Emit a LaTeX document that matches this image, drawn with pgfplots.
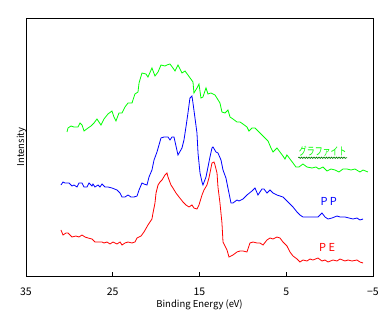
\documentclass[border=0pt]{standalone}
\usepackage{graphicx}
\usepackage{pgfplots}
\pgfplotsset{compat=1.18}
\usepackage{fontspec}
\setmainfont{Noto Sans CJK JP}
\usetikzlibrary{decorations.pathmorphing}
\begin{document}
\begin{tikzpicture}
\begin{axis}[
  scale only axis, width=347pt, height=258pt,
  at={(0,0)}, anchor=south west,
  x dir=reverse, xmin=-5, xmax=35, ymin=0, ymax=258,
  xtick={35,25,15,5,-5}, xticklabels={35,25,15,5,−5},
  xtick pos=lower, tick align=inside, major tick length=4pt,
  ytick=\empty,
  axis line style={line width=0.8pt}, every tick/.style={line width=0.8pt, black},
  xticklabel style={yshift=-8pt, font=\fontsize{10.5}{12}\selectfont},
  xlabel={Binding Energy (eV)}, ylabel={Intensity},
  xlabel style={font=\fontsize{9.5}{11}\selectfont, yshift=2pt},
  ylabel style={font=\fontsize{9.5}{11}\selectfont, yshift=-4pt},
  /pgf/number format/assume math mode=true,
  every axis plot/.append style={line width=0.8pt, sharp plot},
  clip=false,
]
\addplot[color={rgb,255:red,0;green,255;blue,0}] coordinates {
(30.27,144)(30.16,148)(29.81,150)(29.47,149)(29.01,149)(28.78,153)(28.54,151)(28.31,145)
(27.85,148)(27.51,150)(27.16,153)(26.82,157)(26.36,151)(26.01,157)(25.55,162)(25.09,165)
(24.86,159)(24.63,155)(24.28,163)(23.93,163)(23.59,169)(23.24,173)(22.78,173)(22.44,182)
(22.09,184)(21.97,193)(21.63,203)(21.17,202)(20.94,199)(20.48,208)(20.13,200)(19.78,204)
(19.44,211)(18.98,210)(18.75,211)(18.40,212)(18.06,208)(17.82,205)(17.48,211)(17.02,203)
(16.67,205)(16.33,201)(15.75,194)(15.64,183)(15.29,188)(15.06,192)(14.83,178)(14.60,179)
(14.25,188)(14.02,182)(13.68,183)(13.21,181)(12.64,173)(12.41,164)(12.06,163)(11.72,166)
(11.48,159)(11.14,157)(10.68,154)(10.33,154)(9.99,152)(9.53,149)(9.30,145)(8.95,148)
(8.60,148)(8.26,145)(7.80,141)(7.45,138)(7.10,135)(6.76,128)(6.53,124)(6.07,128)
(5.72,124)(5.38,120)(5.15,117)(4.92,121)(4.57,117)(4.22,113)(3.88,109)(3.53,109)
(3.07,112)(2.61,109)(2.03,108)(1.57,109)(1.23,107)(0.76,109)(0.30,105)(-0.16,107)
(-0.62,106)(-1.08,104)(-1.54,107)(-2.00,107)(-2.46,106)(-2.92,107)(-3.50,104)(-3.85,106)
(-4.42,104)
};
\addplot[color={rgb,255:red,0;green,0;blue,255}] coordinates {
(30.97,91)(30.73,94)(30.50,93)(30.04,93)(29.70,90)(29.47,91)(29.12,89)(28.89,93)
(28.54,93)(28.31,89)(27.97,89)(27.74,93)(27.39,90)(27.28,92)(27.05,89)(26.70,91)
(26.47,89)(26.24,92)(25.89,89)(25.55,89)(25.09,88)(24.51,86)(24.16,83)(23.93,79)
(23.59,79)(23.24,81)(22.90,79)(22.55,79)(22.20,80)(21.97,86)(21.63,93)(21.40,92)
(21.05,91)(20.82,99)(20.48,106)(20.24,116)(19.90,124)(19.67,131)(19.44,138)(19.09,139)
(18.63,139)(18.40,136)(18.17,139)(17.94,139)(17.71,130)(17.48,121)(17.02,128)(16.79,136)
(16.56,149)(16.33,163)(16.10,178)(15.87,180)(15.75,173)(15.52,158)(15.29,143)(15.17,123)
(14.94,103)(14.71,94)(14.60,91)(14.25,99)(14.02,109)(13.79,119)(13.56,128)(13.44,129)
(13.10,124)(12.87,123)(12.52,116)(12.29,106)(11.95,98)(11.72,88)(11.37,73)(11.14,73)
(10.68,76)(10.45,75)(9.99,77)(9.53,81)(8.95,85)(8.60,88)(8.26,81)(7.80,87)
(7.57,87)(7.22,83)(6.87,86)(6.53,83)(6.07,81)(5.72,80)(5.38,79)(4.92,75)
(4.57,72)(4.22,69)(3.76,64)(3.42,61)(3.07,59)(2.49,59)(1.92,59)(1.34,59)
(0.88,63)(0.53,59)(0.19,57)(-0.27,58)(-0.85,60)(-1.20,59)(-1.77,59)(-2.23,58)
(-2.69,57)(-3.15,58)(-3.50,56)(-3.85,57)
};
\addplot[color={rgb,255:red,255;green,0;blue,0}] coordinates {
(30.97,46)(30.73,41)(30.39,43)(30.16,43)(29.70,39)(29.24,40)(28.89,39)(28.54,41)
(28.20,39)(27.85,38)(27.39,37)(27.05,34)(26.70,34)(26.24,34)(26.01,33)(25.66,34)
(25.32,32)(24.97,34)(24.51,32)(24.16,34)(23.93,31)(23.59,33)(23.24,34)(22.78,33)
(22.44,34)(22.20,38)(21.74,40)(21.40,44)(20.94,51)(20.48,57)(20.36,63)(20.13,73)
(20.01,83)(19.78,91)(19.55,94)(19.32,96)(18.98,101)(18.75,103)(18.63,99)(18.29,91)
(18.06,88)(17.71,83)(17.36,79)(16.90,74)(16.56,71)(16.21,69)(15.87,71)(15.64,68)
(15.29,67)(15.06,71)(14.71,81)(14.48,86)(14.14,91)(13.91,98)(13.56,113)(13.33,114)
(13.21,111)(12.98,103)(12.87,89)(12.64,73)(12.41,53)(12.29,34)(11.83,26)(11.60,19)
(11.14,21)(10.68,24)(10.33,25)(9.99,25)(9.53,24)(9.18,33)(8.83,34)(8.37,33)
(8.03,33)(7.68,31)(7.22,36)(6.87,38)(6.53,37)(6.07,39)(5.72,38)(5.38,34)
(4.92,30)(4.57,24)(4.22,20)(3.76,17)(3.42,14)(3.07,16)(2.61,15)(2.26,17)
(1.92,16)(1.34,18)(0.88,15)(0.53,16)(0.19,14)(-0.39,16)(-0.85,15)(-1.20,17)
(-1.77,15)(-2.12,16)(-2.58,15)(-3.15,16)(-3.50,14)(-3.85,13)
};
\node[text={rgb,255:red,0;green,255;blue,0}, inner sep=0.5pt] (gl) at (axis cs:0.80,125) {\scalebox{0.72}[1]{\fontsize{11}{13}\selectfont グラファイト}};
\draw[color={rgb,255:red,0;green,128;blue,0}, line width=0.6pt, decorate, decoration={snake, amplitude=0.7pt, segment length=2.5pt}] ([yshift=-1pt]gl.south west) -- ([yshift=-1pt]gl.south east);
\node[text={rgb,255:red,0;green,0;blue,255}, font=\fontsize{11}{13}\selectfont] at (axis cs:0.10,75) {P\kern2.5pt P};
\node[text={rgb,255:red,255;green,0;blue,0}, font=\fontsize{11}{13}\selectfont] at (axis cs:0.30,29) {P\kern2.5pt E};
\end{axis}
\pgfresetboundingbox
\path (-26pt,-54pt) rectangle (358pt,276pt);
\end{tikzpicture}
\end{document}
